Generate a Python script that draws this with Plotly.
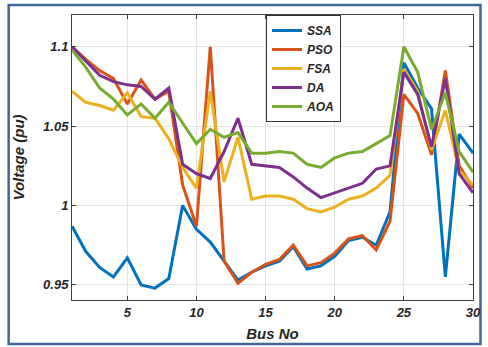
import plotly.graph_objects as go

bus = list(range(1, 31))
ssa = [0.987, 0.971, 0.961, 0.955, 0.967, 0.950, 0.948, 0.954, 1.000, 0.985,
       0.977, 0.965, 0.953, 0.958, 0.962, 0.965, 0.974, 0.960, 0.962, 0.968,
       0.978, 0.980, 0.975, 0.996, 1.090, 1.074, 1.061, 0.955, 1.045, 1.033]
pso = [1.100, 1.092, 1.085, 1.080, 1.064, 1.079, 1.067, 1.072, 1.013, 0.987,
       1.100, 0.965, 0.951, 0.958, 0.963, 0.966, 0.975, 0.962, 0.964, 0.970,
       0.979, 0.981, 0.972, 0.990, 1.070, 1.058, 1.032, 1.085, 1.025, 1.011]
fsa = [1.072, 1.065, 1.063, 1.060, 1.071, 1.056, 1.055, 1.042, 1.024, 1.011,
       1.072, 1.015, 1.043, 1.004, 1.006, 1.006, 1.004, 0.998, 0.996, 0.999,
       1.004, 1.006, 1.011, 1.019, 1.086, 1.072, 1.035, 1.060, 1.022, 1.013]
da = [1.100, 1.091, 1.082, 1.078, 1.076, 1.075, 1.067, 1.074, 1.026, 1.020,
      1.017, 1.034, 1.055, 1.026, 1.025, 1.024, 1.018, 1.011, 1.005, 1.008,
      1.011, 1.014, 1.023, 1.025, 1.084, 1.070, 1.037, 1.080, 1.020, 1.008]
aoa = [1.098, 1.087, 1.074, 1.067, 1.057, 1.064, 1.055, 1.065, 1.052, 1.039,
       1.048, 1.043, 1.046, 1.033, 1.033, 1.034, 1.033, 1.026, 1.024, 1.030,
       1.033, 1.034, 1.039, 1.044, 1.100, 1.084, 1.048, 1.071, 1.034, 1.021]

names = ["SSA", "PSO", "FSA", "DA", "AOA"]
series = [ssa, pso, fsa, da, aoa]
colors = ["#0072BD", "#D95319", "#EDB120", "#7E2F8E", "#77AC30"]

font_bi = dict(family="Liberation Sans, Arial, sans-serif", weight="bold", style="italic", color="#262626")

fig = go.Figure()
for n, s, c in zip(names, series, colors):
    fig.add_trace(go.Scatter(x=bus, y=s, mode="lines", name=n,
                             line=dict(color=c, width=3)))

L, R, T, B = 71.5, 14.5, 15, 47
W, H = 488, 347
pw, ph = W - L - R, H - T - B

def px(x):
    return (x - L) / pw

def py(y):
    return (H - B - y) / ph

fig.update_layout(
    width=W, height=H,
    margin=dict(l=L, r=R, t=T, b=B, autoexpand=False),
    paper_bgcolor="white", plot_bgcolor="white",
    font=dict(family="Liberation Sans, Arial, sans-serif", size=12),
    showlegend=True,
    legend=dict(x=px(266), y=1.0, xanchor="left", yanchor="top",
                bgcolor="white", bordercolor="#333333", borderwidth=1,
                font=dict(size=12, **font_bi),
                tracegroupgap=0, itemwidth=30),
    shapes=[dict(type="rect", xref="paper", yref="paper",
                 x0=px(8), x1=px(481), y0=py(344), y1=py(5),
                 line=dict(color="#3f6798", width=2.5), layer="below")],
)
fig.update_xaxes(range=[1, 30], tickvals=[5, 10, 15, 20, 25, 30],
                 showgrid=True, gridcolor="#e3e3e3", gridwidth=1,
                 showline=True, linecolor="#404040", linewidth=1, mirror="ticks",
                 ticks="inside", ticklen=4, tickcolor="#404040", automargin=False,
                 tickfont=dict(size=13, **font_bi), zeroline=False,
                 title=dict(text="Bus No", font=dict(size=15, **font_bi), standoff=9))
fig.update_yaxes(range=[0.9405, 1.12], tickvals=[0.95, 1.0, 1.05, 1.1],
                 ticktext=["0.95", "1", "1.05", "1.1"],
                 showgrid=True, gridcolor="#e3e3e3", gridwidth=1,
                 showline=True, linecolor="#404040", linewidth=1, mirror="ticks",
                 ticks="inside", ticklen=4, tickcolor="#404040", automargin=False,
                 tickfont=dict(size=13, **font_bi), zeroline=False,
                 title=dict(text="Voltage (pu)", font=dict(size=15, **font_bi), standoff=14))

fig.write_html("out.html", config={"displayModeBar": False},
               post_script="document.body.style.margin='0px';document.body.style.overflow='hidden';")
